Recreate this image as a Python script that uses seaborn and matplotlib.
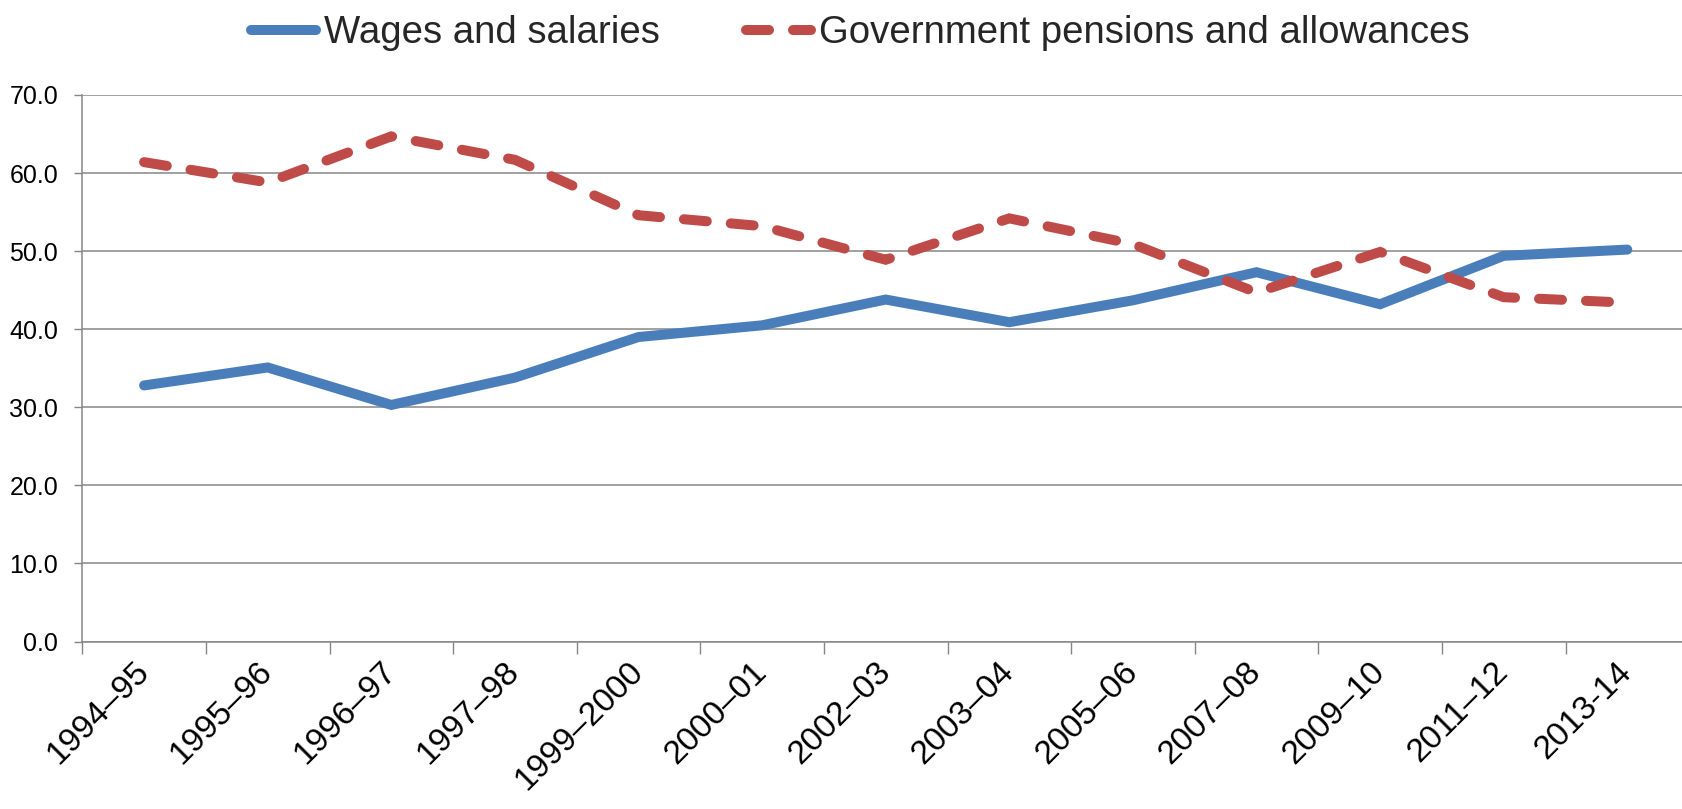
import matplotlib
matplotlib.use("Agg")
import matplotlib.pyplot as plt
from matplotlib.lines import Line2D
from matplotlib.ticker import FixedLocator, FormatStrFormatter
import seaborn as sns
import pandas as pd

categories = ["1994–95", "1995–96", "1996–97", "1997–98", "1999–2000", "2000–01",
              "2002–03", "2003–04", "2005–06", "2007–08", "2009–10", "2011–12", "2013-14"]
wages = [32.8, 35.1, 30.3, 33.8, 39.0, 40.5, 43.8, 40.9, 43.7, 47.3, 43.2, 49.4, 50.2]
pensions = [61.4, 58.8, 64.7, 61.7, 54.6, 53.2, 48.9, 54.2, 50.9, 44.7, 49.9, 44.1, 43.4]
series_names = ["Wages and salaries", "Government pensions and allowances"]
y_ticks = [0, 10, 20, 30, 40, 50, 60, 70]

BLUE = "#4A7EBB"
RED = "#BE4B48"
GRID = "#868686"
DASH = (2.3, 2.4)
LW = 7.2

sns.set_theme(style="white")
plt.rcParams['font.family'] = ['Liberation Sans', 'DejaVu Sans']

df = pd.DataFrame({
    "period": categories * 2,
    "value": wages + pensions,
    "series": [series_names[0]] * len(categories) + [series_names[1]] * len(categories),
})

W, H = 1682, 809
fig = plt.figure(figsize=(W / 100, H / 100), dpi=100)
left_px, top_px, bottom_px, step_px = 82.3, 95.0, 641.5, 123.6
ax = fig.add_axes([left_px / W, (H - bottom_px) / H,
                   len(categories) * step_px / W, (bottom_px - top_px) / H])

sns.lineplot(data=df, x="period", y="value", hue="series", style="series",
             palette={series_names[0]: BLUE, series_names[1]: RED},
             dashes={series_names[0]: "", series_names[1]: DASH},
             linewidth=LW, sort=False, legend=False, ax=ax)

for ln in ax.lines:
    ln.set_solid_capstyle("round")
    ln.set_dash_capstyle("round")
    ln.set_solid_joinstyle("miter")
    ln.set_dash_joinstyle("miter")

ax.set_xlim(-0.5, len(categories) - 0.5)
ax.set_ylim(0, 70)
ax.set_xlabel("")
ax.set_ylabel("")

# y axis
ax.yaxis.set_major_locator(FixedLocator(y_ticks))
ax.yaxis.set_major_formatter(FormatStrFormatter("%.1f"))
ax.tick_params(axis="y", which="major", length=5.8, width=1.0, color=GRID,
               labelsize=18, pad=11.5, labelcolor="black", left=True)

# x axis: labels at centers, tick marks at boundaries
ax.xaxis.set_major_locator(FixedLocator(range(len(categories))))
ax.set_xticklabels(categories)
ax.xaxis.set_minor_locator(FixedLocator([i - 0.5 for i in range(len(categories) + 1)]))
ax.tick_params(axis="x", which="major", length=0, labelsize=24, pad=18.5, labelcolor="black")
ax.tick_params(axis="x", which="minor", length=8.6, width=1.0, color=GRID, bottom=True)
for lab in ax.get_xticklabels():
    lab.set_rotation(45)
    lab.set_ha("right")
    lab.set_va("center")
    lab.set_rotation_mode("anchor")

ax.yaxis.grid(True, color=GRID, linewidth=1.1)
ax.xaxis.grid(False)
ax.set_axisbelow(True)
for s in ["top", "right"]:
    ax.spines[s].set_visible(False)
for s in ["left", "bottom"]:
    ax.spines[s].set_color(GRID)
    ax.spines[s].set_linewidth(1.1)

handles = [
    Line2D([], [], color=BLUE, lw=LW, solid_capstyle="round"),
    Line2D([], [], color=RED, lw=LW, dashes=DASH, dash_capstyle="round"),
]
fig.legend(handles, series_names, loc="center", bbox_to_anchor=(860 / W, 1 - 33 / H),
           ncol=2, frameon=False, fontsize=27.6, handlelength=1.7,
           handletextpad=0.2, columnspacing=2.25, borderpad=0, borderaxespad=0)

fig.savefig("out.png", dpi=100, facecolor="white")
